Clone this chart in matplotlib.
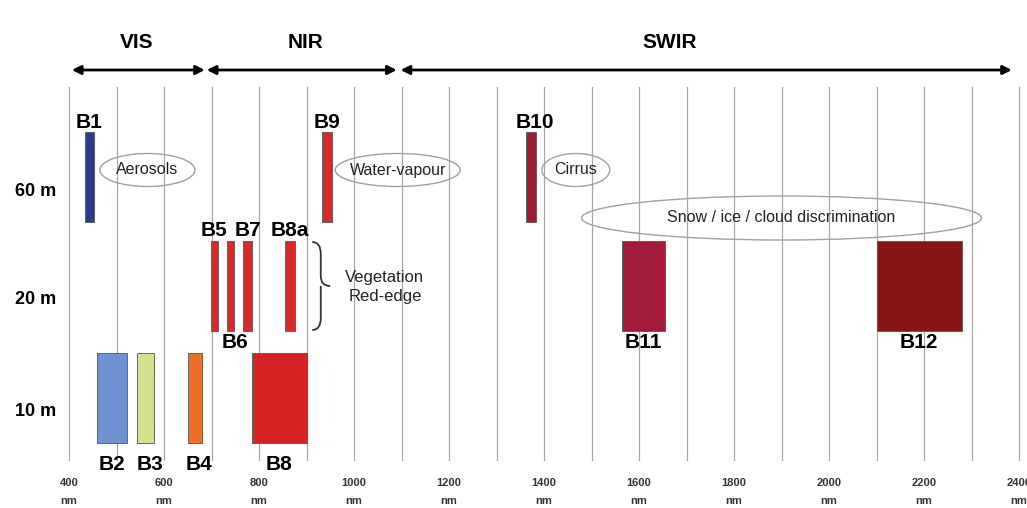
#
# Sentinel-2 MSI spectral bands
#
import matplotlib.pyplot as plt
from matplotlib.patches import Rectangle, Ellipse, FancyArrowPatch, PathPatch
from matplotlib.path import Path

plt.rcParams['font.family'] = ['Liberation Sans', 'DejaVu Sans']

# Band data: name, wavelength range (nm), spatial resolution (m), colour
bands    = ['B1', 'B2', 'B3', 'B4', 'B5', 'B6', 'B7', 'B8', 'B8a',
            'B9', 'B10', 'B11', 'B12']
band_lo  = [433, 458, 543, 650, 698, 733, 767, 785, 855, 933, 1362, 1565, 2100]
band_hi  = [453, 523, 578, 680, 713, 748, 785, 900, 875, 953, 1383, 1655, 2280]
band_res = [60, 10, 10, 10, 20, 20, 20, 10, 20, 60, 60, 20, 20]
label_above = [True, False, False, False, True, False, True, False, True,
               True, True, False, False]
band_colors = ['#2c3a8e', '#6f93d2', '#d3e08e', '#ee7027', '#d72a2a', '#d72a2a',
               '#d72a2a', '#d42225', '#d72a2a', '#d42a2a', '#9e1a35', '#a31a3a',
               '#881414']

# Spectral regions
regions    = ['VIS', 'NIR', 'SWIR']
region_lo  = [406, 690, 1098]
region_hi  = [686, 1090, 2385]
region_lab = [543, 897, 1665]

# Resolution rows
resolutions = [60, 20, 10]
res_labels  = ['60 m', '20 m', '10 m']

# Wavelength ticks
ticks = list(range(400, 2401, 200))

# Annotations (ellipses)
notes  = ['Aerosols', 'Water-vapour', 'Cirrus', 'Snow / ice / cloud discrimination']
note_x = [565, 1092, 1467, 1900]
note_w = [200, 263, 143, 842]

# Layout (vertical, in pixel units from top)
row_top = {60: 132, 20: 241, 10: 353}
row_h = 90
note_y = [170, 170, 170, 218]
note_h = [33, 33, 33, 44]

fig = plt.figure(figsize=(10.27, 5.08), dpi=100)
ax = fig.add_axes([0, 0, 1, 1])
ax.set_xlim(254.7, 2416.8)
ax.set_ylim(508, 0)
ax.axis('off')

# vertical grid lines every 100 nm
for w in range(400, 2401, 100):
    ax.plot([w, w], [87, 460], color='#a8a8a8', lw=0.9, zorder=1)

# tick labels
for t in ticks:
    ax.text(t, 483, str(t), ha='center', va='center', fontsize=8,
            fontweight='bold', color='#333333', fontstretch='condensed')
    ax.text(t, 501, 'nm', ha='center', va='center', fontsize=8,
            fontweight='bold', color='#333333')

# region arrows
for name, lo, hi, lx in zip(regions, region_lo, region_hi, region_lab):
    arr = FancyArrowPatch((lo, 70), (hi, 70), arrowstyle='<|-|>',
                          mutation_scale=13, lw=2, color='black',
                          shrinkA=0, shrinkB=0, zorder=3)
    ax.add_patch(arr)
    ax.text(lx, 42, name, ha='center', va='center', fontsize=15,
            fontweight='bold')

# resolution labels
for res, lab in zip(resolutions, res_labels):
    ax.text(400 - 33 / 0.475, row_top[res] + row_h / 2 + 14, lab,
            ha='center', va='center', fontsize=13, fontweight='bold')

# bands
for name, lo, hi, res, above, col in zip(bands, band_lo, band_hi, band_res,
                                          label_above, band_colors):
    top = row_top[res]
    ax.add_patch(Rectangle((lo, top), hi - lo, row_h, facecolor=col,
                           edgecolor='#555555', lw=0.6, zorder=2))
    xc = (lo + hi) / 2
    if name in ('B6', 'B10', 'B3', 'B4'):
        xc += 9
    if above:
        y = top - 10
    else:
        y = top + row_h + (22 if res == 10 else 12)
    ax.text(xc, y, name, ha='center', va='center', fontsize=15,
            fontweight='bold', zorder=4)

# annotation ellipses
for txt, x, w, y, h in zip(notes, note_x, note_w, note_y, note_h):
    ax.add_patch(Ellipse((x, y), w, h, facecolor='none', edgecolor='#a0a0a0',
                         lw=1.0, zorder=3))
    ax.text(x, y, txt, ha='center', va='center', fontsize=11.5, color='#222222',
            zorder=4)

# vegetation red-edge brace
bx0, bx1, btip = 912, 930, 950
bt, bm, bb = 242, 286, 330
verts = [(bx0, bt), (bx1, bt), (bx1, bt + 12),
         (bx1, bm - 10),
         (bx1, bm), (btip, bm),
         (bx1, bm), (bx1, bm + 10),
         (bx1, bb - 12),
         (bx1, bb), (bx0, bb)]
codes = [Path.MOVETO, Path.CURVE3, Path.CURVE3,
         Path.LINETO,
         Path.CURVE3, Path.CURVE3,
         Path.MOVETO, Path.LINETO,
         Path.LINETO,
         Path.CURVE3, Path.CURVE3]
ax.add_patch(PathPatch(Path(verts, codes), facecolor='none',
                       edgecolor='#333333', lw=1.3, zorder=3))
ax.text(1065, 287, 'Vegetation\nRed-edge', ha='center', va='center',
        fontsize=12, color='#222222', linespacing=1.3)

fig.savefig('out.png', dpi=100)
